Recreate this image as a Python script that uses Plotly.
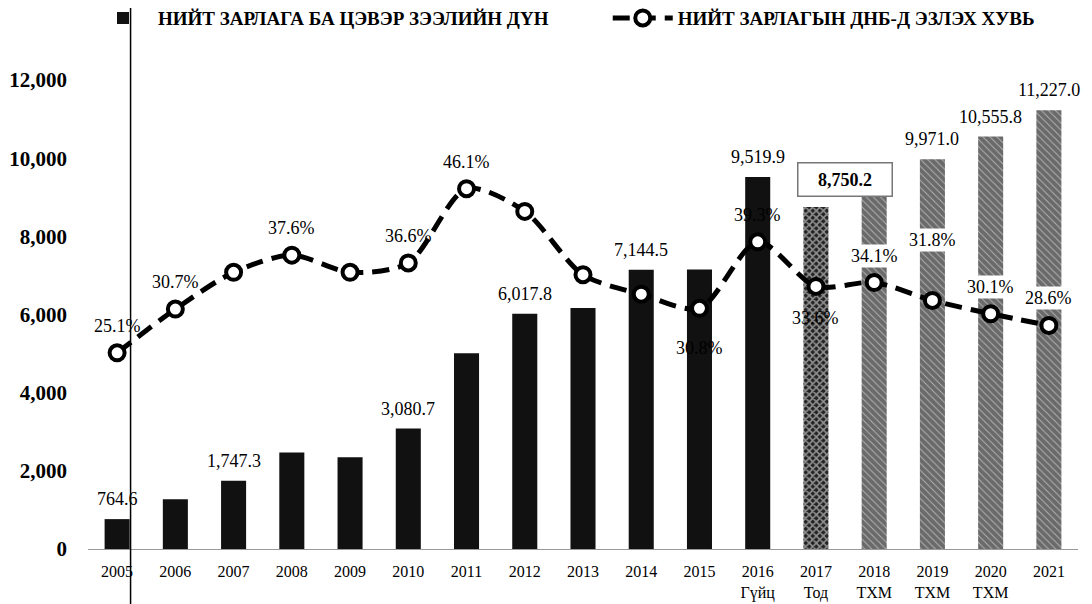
import plotly.graph_objects as go

years = ["2005", "2006", "2007", "2008", "2009", "2010", "2011", "2012", "2013",
         "2014", "2015", "2016", "2017", "2018", "2019", "2020", "2021"]
year_notes = ["", "", "", "", "", "", "", "", "", "", "", "Гүйц", "Тод", "ТХМ", "ТХМ", "ТХМ", ""]

# total spending and net lending, bn MNT
spending = [764.6, 1270.0, 1747.3, 2470.0, 2350.0, 3080.7, 5010.0, 6017.8, 6170.0,
            7144.5, 7150.0, 9519.9, 8750.2, 9480.0, 9971.0, 10555.8, 11227.0]
# share of GDP, %
gdp_share = [25.1, 30.7, 35.4, 37.6, 35.4, 36.6, 46.1, 43.2, 35.1,
             32.6, 30.8, 39.3, 33.6, 34.1, 31.8, 30.1, 28.6]

# which points carry a printed label in the source
value_labeled = ["2005", "2007", "2010", "2012", "2014", "2016", "2017", "2019", "2020", "2021"]
share_labeled = ["2005", "2006", "2008", "2010", "2011", "2015", "2016", "2017",
                 "2018", "2019", "2020", "2021"]

SERIF = "Liberation Serif"

# pixel offsets of the % labels relative to their markers
share_shift = {"2015": -40, "2017": -32, "2019": 60}

tick_text = [y if not n else f"{y}<br>{n}" for y, n in zip(years, year_notes)]

n_solid = years.index("2017")
n_proj = len(years) - n_solid - 1
pattern_shape = [""] * n_solid + ["x"] + ["\\"] * n_proj
pattern_fg = ["#111"] * n_solid + ["#222"] + ["#6a6a6a"] * n_proj
pattern_solidity = [0.5] * n_solid + [0.55] + [0.18] * n_proj

fig = go.Figure()

fig.add_trace(go.Bar(
    x=years,
    y=spending,
    name="<b>НИЙТ ЗАРЛАГА БА ЦЭВЭР ЗЭЭЛИЙН ДҮН</b>",
    legend="legend",
    marker=dict(
        color=pattern_fg,
        line_width=0,
        pattern=dict(shape=pattern_shape, fgcolor=pattern_fg, bgcolor="white",
                     size=5, solidity=pattern_solidity),
    ),
    hoverinfo="x+y",
))

fig.add_trace(go.Scatter(
    x=years,
    y=gdp_share,
    yaxis="y2",
    name="<b>НИЙТ ЗАРЛАГЫН ДНБ-Д ЭЗЛЭХ ХУВЬ</b>",
    legend="legend2",
    mode="lines+markers",
    line=dict(color="black", width=5, dash="17px,9px", shape="spline", smoothing=0.8),
    marker=dict(symbol="circle", size=15, color="white", line=dict(color="black", width=4)),
))

annotations = []
for i, (yr, v) in enumerate(zip(years, spending)):
    if yr not in value_labeled:
        continue
    if yr == "2017":
        annotations.append(dict(
            x=i + 0.5, y=v, xref="x", yref="y",
            text=f"&nbsp;&nbsp;&nbsp;<b>{v:,.1f}</b>&nbsp;&nbsp;&nbsp;", showarrow=False,
            yshift=10, yanchor="bottom",
            font=dict(family=SERIF, size=18, color="black"),
            bgcolor="white", bordercolor="#777", borderwidth=1.5, borderpad=6,
        ))
    else:
        annotations.append(dict(
            x=i, y=v, xref="x", yref="y", text=f"{v:,.1f}", showarrow=False,
            yshift=8, yanchor="bottom",
            font=dict(family=SERIF, size=18, color="black"),
        ))

for i, (yr, p) in enumerate(zip(years, gdp_share)):
    if yr not in share_labeled:
        continue
    on_hatch = i > n_solid
    annotations.append(dict(
        x=i, y=p, xref="x", yref="y2", text=f"{p:.1f}%", showarrow=False,
        yshift=share_shift.get(yr, 27), yanchor="middle",
        font=dict(family=SERIF, size=18, color="black"),
        bgcolor="white" if on_hatch else "rgba(0,0,0,0)",
    ))

legend_style = dict(
    orientation="h",
    xanchor="left",
    yref="container",
    y=0.983, yanchor="middle",
    font=dict(family=SERIF, size=19, color="black"),
    itemwidth=60,
    bgcolor="rgba(0,0,0,0)",
)

# page body adds an 8px offset, so the figure is drawn 8px smaller
fig.update_layout(
    width=1084,
    height=596,
    margin=dict(l=80, r=14, t=33, b=55, autoexpand=False),
    paper_bgcolor="white",
    plot_bgcolor="white",
    bargap=0.57,
    showlegend=True,
    legend=dict(x=0.0, **legend_style),
    legend2=dict(x=0.525, **legend_style),
    xaxis=dict(
        type="category",
        tickvals=years,
        ticktext=tick_text,
        range=[-0.5, len(years) - 0.5],
        showline=True, linecolor="#999", linewidth=1,
        showgrid=False, ticks="", automargin=False,
        ticklabelstandoff=8,
        tickfont=dict(family=SERIF, size=16, color="black"),
    ),
    yaxis=dict(
        range=[0, 13000],
        tickvals=list(range(0, 12001, 2000)),
        tickformat=",",
        showgrid=False, zeroline=False, showline=False,
        ticks="", ticklabelstandoff=20, automargin=False,
        tickfont=dict(family=SERIF, size=21, color="black", weight="bold"),
    ),
    yaxis2=dict(
        range=[0, 65],
        overlaying="y",
        side="right",
        visible=False,
    ),
    annotations=annotations,
    shapes=[dict(type="line", xref="paper", yref="paper",
                 x0=0.043, x1=0.043, y0=-0.12, y1=1.1,
                 line=dict(color="black", width=1.5))],
)

fig.write_html("out.html")
